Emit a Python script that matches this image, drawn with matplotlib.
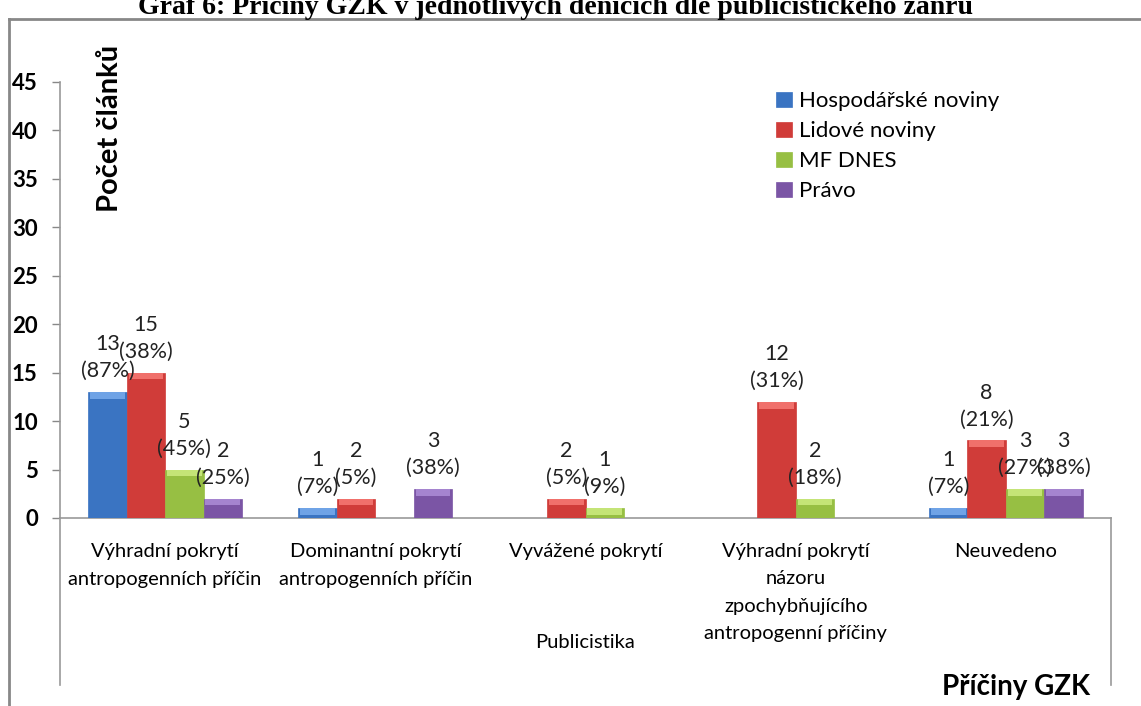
import matplotlib
matplotlib.use("Agg")
import numpy as np
import matplotlib.pyplot as plt
from matplotlib.lines import Line2D

# Data
categories = [
    "Výhradní pokrytí\nantropogenních příčin",
    "Dominantní pokrytí\nantropogenních příčin",
    "Vyvážené pokrytí",
    "Výhradní pokrytí\nnázoru\nzpochybňujícího\nantropogenní příčiny",
    "Neuvedeno",
]
series_names = ["Hospodářské noviny", "Lidové noviny", "MF DNES", "Právo"]
hn_counts = [13, 1, 0, 0, 1]
hn_pct = [87, 7, 0, 0, 7]
ln_counts = [15, 2, 2, 12, 8]
ln_pct = [38, 5, 5, 31, 21]
mf_counts = [5, 0, 1, 2, 3]
mf_pct = [45, 0, 9, 18, 27]
pr_counts = [2, 3, 0, 0, 3]
pr_pct = [25, 38, 0, 0, 38]
y_ticks = [0, 5, 10, 15, 20, 25, 30, 35, 40, 45]

colors = ["#3A74C2", "#D03C39", "#97BF43", "#7B55A5"]
tops = ["#6FA3E6", "#F0706B", "#C4E477", "#A584CF"]

plt.rcParams['font.family'] = ['Lato', 'DejaVu Sans']

W, H = 1141, 706
fig = plt.figure(figsize=(W / 100, H / 100), dpi=100)
ax = fig.add_axes([60 / W, 1 - 518 / H, (1111 - 60) / W, (518 - 82) / H])

x = np.arange(len(categories))
width = 0.183
all_counts = [hn_counts, ln_counts, mf_counts, pr_counts]
all_pct = [hn_pct, ln_pct, mf_pct, pr_pct]

for i, (counts, pcts) in enumerate(zip(all_counts, all_pct)):
    pos = x + (i - 1.5) * width
    ax.bar(pos, counts, width, color=colors[i], edgecolor=colors[i], linewidth=0.5,
           label=series_names[i], zorder=3)
    # light bevel on top of each bar
    band = [min(c, 0.7) for c in counts]
    ax.bar(pos, band, width * 0.9, bottom=[c - b for c, b in zip(counts, band)],
           color=tops[i], linewidth=0, zorder=4)
    for xp, c, p in zip(pos, counts, pcts):
        if c > 0:
            ax.annotate(f"{c}\n({p}%)", (xp, c), xytext=(0, 8), textcoords="offset points",
                        ha="center", va="bottom", fontsize=15.5, linespacing=1.42,
                        color="#222222", zorder=5)

ax.set_xlim(-0.5, len(categories) - 0.5)
ax.set_ylim(0, 45)
ax.set_yticks(y_ticks)
ax.set_yticklabels([str(t) for t in y_ticks], fontsize=16, fontweight="bold")
ax.set_xticks(x)
ax.set_xticklabels(categories, fontsize=14.5, linespacing=1.75, va="top")
ax.tick_params(axis="x", length=0, pad=18)
ax.tick_params(axis="y", length=6, width=1, color="#888888", pad=10)

for s in ["top", "right"]:
    ax.spines[s].set_visible(False)
for s in ["left", "bottom"]:
    ax.spines[s].set_color("#999999")
    ax.spines[s].set_linewidth(1.2)

# category area dividers below the axis
fig.add_artist(Line2D([60 / W, 60 / W], [1 - 518 / H, 1 - 685 / H], color="#999999", lw=1.2))
fig.add_artist(Line2D([1111 / W, 1111 / W], [1 - 518 / H, 1 - 685 / H], color="#999999", lw=1.2))

# outer frame
fig.add_artist(Line2D([9 / W, 9 / W], [-0.01, 1 - 19 / H], color="#888888", lw=2))
fig.add_artist(Line2D([9 / W, 1.01], [1 - 19 / H, 1 - 19 / H], color="#888888", lw=2))

fig.text(585 / W, 1 - 643 / H, "Publicistika", ha="center", va="center", fontsize=14.5)
fig.text(1090 / W, 1 - 695 / H, "Příčiny GZK", ha="right", va="baseline",
         fontsize=20, fontweight="bold")
fig.text(110 / W, 1 - 128 / H, "Počet článků", ha="center", va="center", rotation=90,
         fontsize=21, fontweight="bold")
fig.text(555 / W, 1 - 14 / H, "Graf 6: Příčiny GZK v jednotlivých denících dle publicistického žánru",
         ha="center", va="baseline", fontsize=20, fontweight="bold",
         family=["Liberation Serif", "DejaVu Serif"])

ax.legend(loc="upper left", bbox_to_anchor=(765 / W, 1 - 80 / H), bbox_transform=fig.transFigure,
          frameon=False, fontsize=16, handlelength=0.7, handleheight=0.7,
          handletextpad=0.35, labelspacing=0.45, borderpad=0)

fig.savefig("out.png", dpi=100)
